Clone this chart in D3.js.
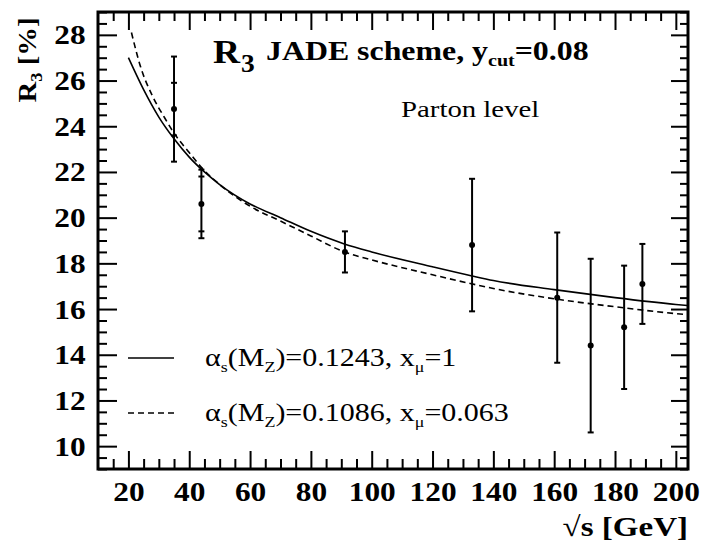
<!DOCTYPE html>
<meta charset="utf-8">
<style>
body {
  margin: 0;
  background-color: #ffffff;
}
.axis path {
  display: none;
}
.axis line {
  stroke: #000;
  stroke-width: 2px;
}
.frame {
  fill: none;
  stroke: #000;
  stroke-width: 3px;
}
.curve {
  fill: none;
  stroke: #000;
  stroke-width: 1.6px;
}
.dashed {
  stroke-dasharray: 6 4;
}
.err {
  stroke: #000;
  stroke-width: 2px;
}
</style>
<svg width="701" height="544"></svg>
<script src="https://d3js.org/d3.v7.min.js"></script>
<script>
// measured points
var sqrtS = [35, 44, 91.2, 133, 161, 172, 183, 189];
var r3 = [24.75, 20.6, 18.5, 18.8, 16.5, 14.4, 15.2, 17.1];
var errTot = [2.3, 1.5, 0.9, 2.9, 2.85, 3.8, 2.7, 1.75];
var errStat = [1.15, 1.2, 0, 0, 0, 0, 0, 0];

// alpha_s(MZ)=0.1243, x_mu=1
var solidX = [20, 25, 30, 35, 40, 45, 50, 60, 70, 80, 91, 100, 120, 133, 140, 160, 180, 200, 204];
var solidY = [27.0, 25.6, 24.4, 23.45, 22.65, 22.0, 21.45, 20.6, 20.0, 19.4, 18.85, 18.5, 17.85, 17.45, 17.25, 16.85, 16.5, 16.2, 16.15];

// alpha_s(MZ)=0.1086, x_mu=0.063
var dashX = [21, 24, 28, 32, 35, 40, 44, 50, 60, 70, 80, 91, 100, 120, 133, 140, 160, 180, 200, 204];
var dashY = [28.1, 26.6, 25.3, 24.35, 23.7, 22.85, 22.2, 21.45, 20.5, 19.85, 19.2, 18.5, 18.15, 17.5, 17.1, 16.9, 16.45, 16.1, 15.8, 15.75];

var xTicks = [20, 40, 60, 80, 100, 120, 140, 160, 180, 200];
var yTicks = [10, 12, 14, 16, 18, 20, 22, 24, 26, 28];

var FONT = "Liberation Serif";

var svg = d3.select("svg"),
    margin = {top: 12, right: 13, bottom: 75, left: 98},
    width = +svg.attr("width") - margin.left - margin.right,
    height = +svg.attr("height") - margin.top - margin.bottom;

var x = d3.scaleLinear().domain([10, 204]).range([0, width]);
var y = d3.scaleLinear().domain([9, 29]).range([height, 0]);

var g = svg.append("g")
    .attr("transform", "translate(" + margin.left + "," + margin.top + ")");

var xMinor = d3.range(15, 204, 5).filter(function(d) { return d % 20 != 0; });
var yMinor = d3.range(9, 29.01, 0.5).filter(function(d) { return d % 2 != 0; });

function styleTicks(sel) {
  sel.attr("font-family", null).attr("font-size", null);
  sel.selectAll("text")
      .style("font-family", FONT)
      .style("font-size", "28px")
      .style("font-weight", "bold")
      .attr("transform", "scale(1.12,1)");
}

// bottom
g.append("g").attr("class", "axis")
    .attr("transform", "translate(0," + height + ")")
    .call(d3.axisBottom(x).tickValues(xTicks).tickSize(-18).tickPadding(12))
    .call(styleTicks);
g.append("g").attr("class", "axis")
    .attr("transform", "translate(0," + height + ")")
    .call(d3.axisBottom(x).tickValues(xMinor).tickSize(-10).tickFormat(""));
// top
g.append("g").attr("class", "axis")
    .call(d3.axisTop(x).tickValues(xTicks).tickSize(-18).tickFormat(""));
g.append("g").attr("class", "axis")
    .call(d3.axisTop(x).tickValues(xMinor).tickSize(-9).tickFormat(""));
// left
g.append("g").attr("class", "axis")
    .call(d3.axisLeft(y).tickValues(yTicks).tickSize(-19).tickPadding(11))
    .call(styleTicks);
g.append("g").attr("class", "axis")
    .call(d3.axisLeft(y).tickValues(yMinor).tickSize(-9).tickFormat(""));
// right
g.append("g").attr("class", "axis")
    .attr("transform", "translate(" + width + ",0)")
    .call(d3.axisRight(y).tickValues(yTicks).tickSize(-17).tickFormat(""));
g.append("g").attr("class", "axis")
    .attr("transform", "translate(" + width + ",0)")
    .call(d3.axisRight(y).tickValues(yMinor).tickSize(-8).tickFormat(""));

g.append("rect").attr("class", "frame")
    .attr("width", width).attr("height", height);

var line = d3.line()
    .x(function(d) { return x(d[0]); })
    .y(function(d) { return y(d[1]); })
    .curve(d3.curveMonotoneX);

g.append("path").attr("class", "curve")
    .attr("d", line(d3.zip(solidX, solidY)));
g.append("path").attr("class", "curve dashed")
    .attr("d", line(d3.zip(dashX, dashY)));

// error bars
var pts = sqrtS.map(function(s, i) {
  return {x: s, y: r3[i], e: errTot[i], st: errStat[i]};
});

var pg = g.selectAll(".pt").data(pts).enter().append("g").attr("class", "pt");
pg.append("line").attr("class", "err")
    .attr("x1", function(d) { return x(d.x); })
    .attr("x2", function(d) { return x(d.x); })
    .attr("y1", function(d) { return y(d.y - d.e); })
    .attr("y2", function(d) { return y(d.y + d.e); });
[-1, 1].forEach(function(sgn) {
  pg.append("line").attr("class", "err")
      .attr("x1", function(d) { return x(d.x) - 3; })
      .attr("x2", function(d) { return x(d.x) + 3; })
      .attr("y1", function(d) { return y(d.y + sgn * d.e); })
      .attr("y2", function(d) { return y(d.y + sgn * d.e); });
  pg.filter(function(d) { return d.st > 0; }).append("line").attr("class", "err")
      .attr("x1", function(d) { return x(d.x) - 3; })
      .attr("x2", function(d) { return x(d.x) + 3; })
      .attr("y1", function(d) { return y(d.y + sgn * d.st); })
      .attr("y2", function(d) { return y(d.y + sgn * d.st); });
});
pg.append("circle")
    .attr("cx", function(d) { return x(d.x); })
    .attr("cy", function(d) { return y(d.y); })
    .attr("r", 3);

// text in a slightly widened serif, like the scanned original
function label(px, py, size, bold, sx, rot) {
  var tr = "translate(" + px + "," + py + ")" + (rot ? " rotate(" + rot + ")" : "") + " scale(" + sx + ",1)";
  return svg.append("text")
      .attr("transform", tr)
      .style("font-family", FONT)
      .style("font-size", size + "px")
      .style("font-weight", bold ? "bold" : "normal");
}
function sub(t, s, size, shift) {
  t.append("tspan").style("font-size", size + "px").attr("dy", shift).text(s);
  return t;
}

var t1 = label(213, 63, 34, true, 1.1);
t1.append("tspan").text("R");
t1.append("tspan").style("font-size", "25px").attr("dx", 1).attr("dy", 9).text("3");

var t2 = label(266, 60, 27, true, 1.18);
t2.append("tspan").text("JADE scheme, y");
sub(t2, "cut", 17, 6);
t2.append("tspan").attr("dy", -6).text("=0.08");

label(401, 117, 24, false, 1.2).text("Parton level");

// legend
var legend = [
  {y: 358, dash: false, as: "0.1243", xm: "1"},
  {y: 413, dash: true, as: "0.1086", xm: "0.063"}
];
legend.forEach(function(l) {
  svg.append("line").attr("class", l.dash ? "curve dashed" : "curve")
      .attr("x1", 128).attr("x2", 174).attr("y1", l.y).attr("y2", l.y);
  var t = label(205, l.y + 8, 25, false, 1.2);
  t.append("tspan").text("\u03b1");
  sub(t, "s", 15, 6);
  t.append("tspan").attr("dy", -6).text("(M");
  sub(t, "Z", 15, 6);
  t.append("tspan").attr("dy", -6).text(")=" + l.as + ", x");
  sub(t, "\u03bc", 15, 6);
  t.append("tspan").attr("dy", -6).text("=" + l.xm);
});

// axis titles
var yl = label(36, 60, 25, true, 1.15, -90).attr("text-anchor", "middle");
yl.append("tspan").text("R");
sub(yl, "3", 16, 6);
yl.append("tspan").attr("dy", -6).text(" [%]");

label(688, 536, 28, true, 1.18).attr("text-anchor", "end")
    .text("\u221as [GeV]");
</script>
